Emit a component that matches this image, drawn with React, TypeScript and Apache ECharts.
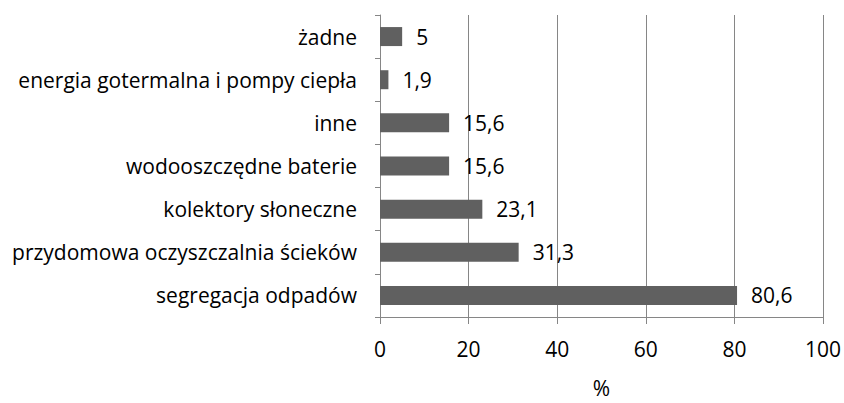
import React, { useEffect, useRef } from "react";
import * as echarts from "echarts";

const categories = [
  "segregacja odpadów",
  "przydomowa oczyszczalnia ścieków",
  "kolektory słoneczne",
  "wodooszczędne baterie",
  "inne",
  "energia gotermalna i pompy ciepła",
  "żadne",
];
const values = [80.6, 31.3, 23.1, 15.6, 15.6, 1.9, 5];
const xTicks = [0, 20, 40, 60, 80, 100];

const FONT = "Open Sans";
const FS = 21;

export default function App() {
  const ref = useRef<HTMLDivElement>(null);
  useEffect(() => {
    if (!ref.current) return;
    const chart = echarts.init(ref.current, undefined, { renderer: "svg" });
    chart.setOption({
      animation: false,
      backgroundColor: "#ffffff",
      grid: { left: 380, right: 19, top: 15, bottom: 76, containLabel: false },
      xAxis: {
        type: "value",
        min: xTicks[0],
        max: xTicks[xTicks.length - 1],
        interval: 20,
        name: "%",
        nameLocation: "middle",
        nameGap: 60,
        nameTextStyle: { fontFamily: FONT, fontSize: FS, color: "#000" },
        axisLine: { show: true, lineStyle: { color: "#868686", width: 1 } },
        axisTick: { show: true, length: 7, lineStyle: { color: "#868686" } },
        axisLabel: {
          fontFamily: FONT,
          fontSize: FS,
          color: "#000",
          margin: 21,
          formatter: (v: number) => String(v),
        },
        splitLine: { show: true, lineStyle: { color: "#868686", width: 1 } },
      },
      yAxis: {
        type: "category",
        data: categories,
        axisLine: { show: true, lineStyle: { color: "#868686", width: 1 } },
        axisTick: { show: true, length: 5, lineStyle: { color: "#868686" } },
        axisLabel: {
          fontFamily: FONT,
          fontSize: FS,
          color: "#000",
          margin: 23,
        },
        splitLine: { show: false },
      },
      series: [
        {
          type: "bar",
          data: values,
          barWidth: 19,
          itemStyle: { color: "#606060" },
          label: {
            show: true,
            position: "right",
            distance: 14,
            fontFamily: FONT,
            fontSize: FS,
            color: "#000",
            formatter: (p: any) => String(p.value).replace(".", ","),
          },
        },
      ],
    });
    return () => chart.dispose();
  }, []);
  return (
    <div
      ref={ref}
      style={{ position: "fixed", left: 0, top: 0, width: 844, height: 403 }}
    />
  );
}
